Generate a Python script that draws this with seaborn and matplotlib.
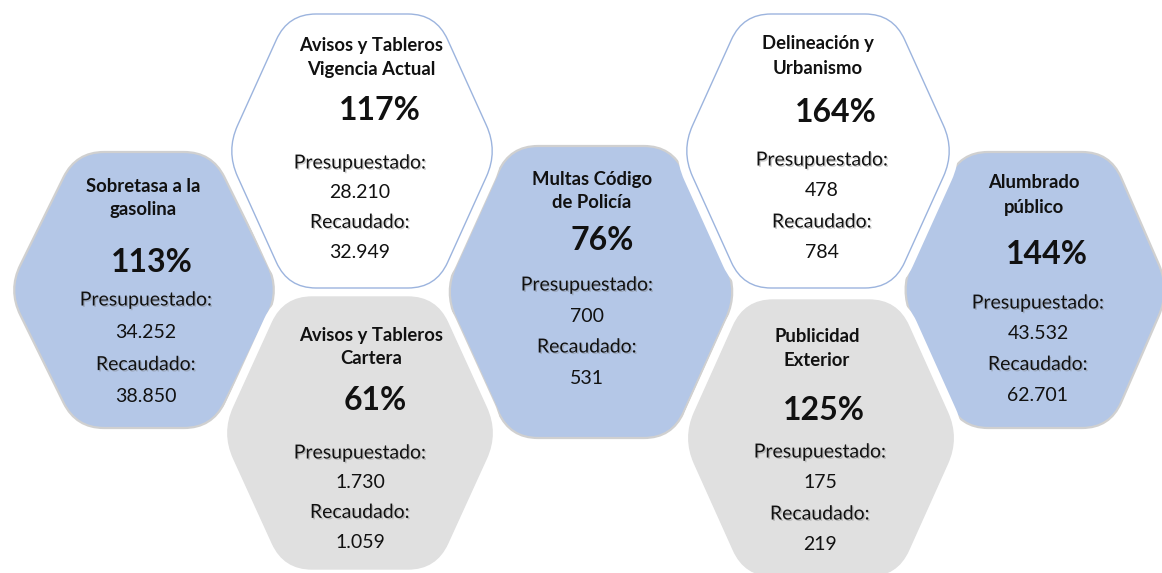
import numpy as np
import matplotlib
matplotlib.use("Agg")
import matplotlib.pyplot as plt
import seaborn as sns
from matplotlib.path import Path
from matplotlib.patches import PathPatch
from matplotlib import patheffects as pe
from matplotlib import font_manager as fm

# ---------------- data ----------------
categories = ["Sobretasa a la\ngasolina",
              "Avisos y Tableros\nVigencia Actual",
              "Avisos y Tableros\nCartera",
              "Multas Código\nde Policía",
              "Delineación y\nUrbanismo",
              "Publicidad\nExterior",
              "Alumbrado\npúblico"]
percentages = [113, 117, 61, 76, 164, 125, 144]
presupuestado = [34252, 28210, 1730, 700, 478, 175, 43532]
recaudado = [38850, 32949, 1059, 531, 784, 219, 62701]
kinds = ["blue", "white", "gray", "blue", "white", "gray", "blue"]

# ---------------- layout (pixels) ----------------
hex_cx = [144, 362, 360, 591, 818, 821, 1035]
hex_cy = [290, 151, 433, 292, 151, 438, 290]
hex_w = [136, 136, 138, 147, 137, 138, 135]
hex_h = [138, 137, 136, 146, 137, 138, 138]
hex_s = [68, 62, 62, 66, 62, 62, 60]
title_x = [143, 371, 371, 592, 818, 817, 1034]
title_y = [198, 57, 347, 191, 56, 349, 195]
pct_x = [152, 380, 375, 602, 836, 824, 1047]
pct_y = [263, 110, 400, 240, 113, 410, 255]
body_x = [146, 360, 360, 587, 822, 820, 1038]
body_y0 = [300, 163, 453, 285, 160, 452, 303]
body_dy = [32.3, 29.7, 29.7, 31, 31, 31, 30.7]

sns.set_theme(style="white")
available = {f.name for f in fm.fontManager.ttflist}
fam = [f for f in ["Lato", "Liberation Sans Narrow", "DejaVu Sans"] if f in available]
plt.rcParams["font.family"] = fam

W, H = 1162, 573
fig = plt.figure(figsize=(W / 100, H / 100), dpi=100)
ax = fig.add_axes([0, 0, 1, 1])
ax.set_xlim(0, W)
ax.set_ylim(H, 0)
ax.axis("off")


def hex_path(cx, cy, w, h, s, r=28):
    pts = np.array([[cx - w, cy], [cx - w + s, cy - h], [cx + w - s, cy - h],
                    [cx + w, cy], [cx + w - s, cy + h], [cx - w + s, cy + h]], float)
    verts, codes = [], []
    n = len(pts)
    for i in range(n):
        p = pts[i]
        prv = pts[i - 1]
        nxt = pts[(i + 1) % n]
        a = p + (prv - p) / np.linalg.norm(prv - p) * r
        b = p + (nxt - p) / np.linalg.norm(nxt - p) * r
        verts.append(a)
        codes.append(Path.MOVETO if i == 0 else Path.LINETO)
        verts += [p, b]
        codes += [Path.CURVE3, Path.CURVE3]
    verts.append(verts[0])
    codes.append(Path.CLOSEPOLY)
    return Path(verts, codes)


fill = {"blue": "#B4C7E7", "white": "#FFFFFF", "gray": "#E0E0E0"}
edge = {"blue": "#D0D0D0", "white": "#9CB4DE", "gray": "#E0E0E0"}

for i, k in enumerate(kinds):
    if k == "blue":
        ax.add_patch(PathPatch(hex_path(hex_cx[i], hex_cy[i], hex_w[i], hex_h[i], hex_s[i]),
                               facecolor=fill[k], edgecolor=edge[k], lw=1.6, zorder=1))
for i, k in enumerate(kinds):
    if k != "blue":
        ax.add_patch(PathPatch(hex_path(hex_cx[i], hex_cy[i], hex_w[i], hex_h[i], hex_s[i]),
                               facecolor="white", edgecolor="white", lw=13, zorder=2))
for i, k in enumerate(kinds):
    if k != "blue":
        ax.add_patch(PathPatch(hex_path(hex_cx[i], hex_cy[i], hex_w[i], hex_h[i], hex_s[i]),
                               facecolor=fill[k], edgecolor=edge[k], lw=1.0, zorder=3))

shadow = [pe.withSimplePatchShadow(offset=(1, -1), shadow_rgbFace="#777777", alpha=0.35)]


def fmt(v):
    return f"{v:,}".replace(",", ".")


for i in range(len(categories)):
    ax.text(title_x[i], title_y[i], categories[i], ha="center", va="center",
            fontsize=13.3, fontweight="bold", color="#111111", linespacing=1.5, zorder=5)
    ax.text(pct_x[i], pct_y[i], f"{percentages[i]}%", ha="center", va="center",
            fontsize=23, fontweight="bold", color="#111111", zorder=5)
    lines = ["Presupuestado:", fmt(presupuestado[i]), "Recaudado:", fmt(recaudado[i])]
    for j, t in enumerate(lines):
        ax.text(body_x[i], body_y0[i] + j * body_dy[i], t, ha="center", va="center",
                fontsize=14, color="#111111", zorder=5,
                path_effects=shadow if j % 2 == 0 else None)

fig.savefig("out.png", dpi=100)
